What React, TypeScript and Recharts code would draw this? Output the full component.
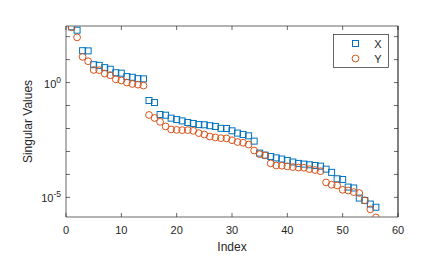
import React from 'react';
import { ScatterChart, Scatter, XAxis, YAxis, Legend, ReferenceLine } from 'recharts';

const indices = [
  1, 2, 3, 4, 5, 6, 7, 8, 9, 10, 11, 12, 13, 14, 15, 16, 17, 18, 19, 20,
  21, 22, 23, 24, 25, 26, 27, 28, 29, 30, 31, 32, 33, 34, 35, 36, 37, 38, 39, 40,
  41, 42, 43, 44, 45, 46, 47, 48, 49, 50, 51, 52, 53, 54, 55, 56,
];

const xValues = [
  269, 191, 24.5, 24.0, 6.03, 5.62, 4.47, 3.8, 2.69, 2.57,
  1.82, 1.7, 1.48, 1.45, 0.166, 0.135, 0.0407, 0.038, 0.0282, 0.0245,
  0.0214, 0.0182, 0.0166, 0.0148, 0.0145, 0.0132, 0.0123, 0.0102, 0.01, 0.00794,
  0.00631, 0.0055, 0.00479, 0.00282, 8.51e-4, 6.92e-4, 6.03e-4, 5.25e-4, 4.68e-4, 4.07e-4,
  3.47e-4, 3.02e-4, 2.82e-4, 2.63e-4, 2.45e-4, 2.29e-4, 1.7e-4, 1.23e-4, 6.46e-5, 6.03e-5,
  2.82e-5, 2.57e-5, 9.33e-6, 7.41e-6, 5.13e-6, 3.72e-6,
];

const yValues = [
  257, 93.3, 13.2, 8.51, 3.55, 3.47, 2.45, 2.09, 1.38, 1.23,
  1.0, 0.871, 0.813, 0.741, 0.0389, 0.0288, 0.0195, 0.0123, 0.00912, 0.00871,
  0.00851, 0.00851, 0.00794, 0.00631, 0.0055, 0.00447, 0.00407, 0.0038, 0.00372, 0.00309,
  0.00257, 0.0024, 0.002, 0.0011, 7.59e-4, 6.76e-4, 3.02e-4, 2.45e-4, 2.4e-4, 2.24e-4,
  2.09e-4, 2.0e-4, 1.95e-4, 1.7e-4, 1.55e-4, 1.38e-4, 4.47e-5, 3.55e-5, 3.31e-5, 2.14e-5,
  2.0e-5, 1.7e-5, 1.55e-5, 7.41e-6, 3.02e-6, 1.35e-6,
];

const seriesNames = ['X', 'Y'];
const xTicks = [0, 10, 20, 30, 40, 50, 60];
const yTicks = [1e2, 1e1, 1e0, 1e-1, 1e-2, 1e-3, 1e-4, 1e-5];
const labeledExponents = [0, -5];
const yDomain = [1.4e-6, 291];
const xDomain = [0, 60];

const FONT = '"Liberation Sans", Arial, Helvetica, sans-serif';
const TEXT = '#262626';
const AXIS = '#262626';
const BLUE = '#0072BD';
const ORANGE = '#D95319';

const xData = indices.map((i, k) => ({ i, v: xValues[k] }));
const yData = indices.map((i, k) => ({ i, v: yValues[k] }));

const SquareShape = (props: any) => {
  const { cx, cy } = props;
  if (cx == null || cy == null) return <g />;
  return <rect x={cx - 3} y={cy - 3} width={6} height={6} fill="none" stroke={BLUE} strokeWidth={1} />;
};

const CircleShape = (props: any) => {
  const { cx, cy } = props;
  if (cx == null || cy == null) return <g />;
  return <circle cx={cx} cy={cy} r={3.4} fill="none" stroke={ORANGE} strokeWidth={1} />;
};

const EmptyShape = () => <g />;
const EmptyTick = () => <g />;

const YTick = (props: any) => {
  const { x, y, payload } = props;
  const exp = Math.round(Math.log10(payload.value));
  if (!labeledExponents.includes(exp)) return <g />;
  return (
    <text x={x} y={y} textAnchor="end" fontSize={11} fill={TEXT} fontFamily={FONT}>
      <tspan dy={5}>10</tspan>
      <tspan dy={-5} fontSize={8.5}>{String(exp)}</tspan>
    </text>
  );
};

const XTick = (props: any) => {
  const { x, y, payload } = props;
  return (
    <text x={x} y={y} dy={15} textAnchor="middle" fontSize={11} fill={TEXT} fontFamily={FONT}>
      {String(payload.value)}
    </text>
  );
};

const YLabel = (props: any) => {
  const vb = props.viewBox || { x: 0, y: 0, height: 0 };
  const cx = vb.x + 24;
  const cy = vb.y + vb.height / 2;
  return (
    <text x={cx} y={cy} transform={`rotate(-90, ${cx}, ${cy})`} textAnchor="middle" fontSize={12} fill={TEXT} fontFamily={FONT}>
      Singular Values
    </text>
  );
};

const XLabel = (props: any) => {
  const vb = props.viewBox || { x: 0, y: 0, width: 0 };
  return (
    <text x={vb.x + vb.width / 2} y={vb.y + 34} textAnchor="middle" fontSize={12} fill={TEXT} fontFamily={FONT}>
      Index
    </text>
  );
};

const LegendBox = () => (
  <svg width={56} height={34} style={{ display: 'block' }}>
    <rect x={0.5} y={0.5} width={55} height={33} fill="#fff" stroke={AXIS} strokeWidth={0.7} />
    <rect x={19.5} y={6.5} width={6} height={6} fill="none" stroke={BLUE} strokeWidth={1} />
    <text x={45} y={13.5} textAnchor="middle" fontSize={11} fill={TEXT} fontFamily={FONT}>{seriesNames[0]}</text>
    <circle cx={22.5} cy={24.5} r={3.4} fill="none" stroke={ORANGE} strokeWidth={1} />
    <text x={45} y={28.5} textAnchor="middle" fontSize={11} fill={TEXT} fontFamily={FONT}>{seriesNames[1]}</text>
  </svg>
);

export default function App() {
  return (
    <div style={{ width: 435, height: 258 }}>
      <ScatterChart width={435} height={258} margin={{ top: 17, right: 44, bottom: 0, left: 0 }}>
        <XAxis
          type="number"
          dataKey="i"
          domain={xDomain}
          ticks={xTicks}
          interval={0}
          height={49}
          stroke={AXIS}
          strokeWidth={0.7}
          tickSize={-4}
          tickMargin={6}
          tick={<XTick />}
          label={<XLabel />}
        />
        <XAxis
          xAxisId="top"
          orientation="top"
          type="number"
          dataKey="i"
          domain={xDomain}
          ticks={xTicks}
          interval={0}
          height={1}
          stroke={AXIS}
          strokeWidth={0.7}
          tickSize={-4}
          tick={<EmptyTick />}
        />
        <YAxis
          type="number"
          dataKey="v"
          scale="log"
          domain={yDomain}
          ticks={yTicks}
          interval={0}
          allowDataOverflow
          width={58}
          stroke={AXIS}
          strokeWidth={0.7}
          tickSize={-4}
          tickMargin={9}
          tick={<YTick />}
          label={<YLabel />}
        />
        <YAxis
          yAxisId="right"
          orientation="right"
          type="number"
          dataKey="v"
          scale="log"
          domain={yDomain}
          ticks={yTicks}
          interval={0}
          allowDataOverflow
          width={1}
          stroke={AXIS}
          strokeWidth={0.7}
          tickSize={-4}
          tick={<EmptyTick />}
        />
        <ReferenceLine x={xDomain[1]} stroke={AXIS} strokeWidth={0.7} />
        <Legend
          layout="vertical"
          align="center"
          verticalAlign="middle"
          wrapperStyle={{ position: 'absolute', left: 325, top: 26, width: 56, height: 34 }}
          content={<LegendBox />}
        />
        <Scatter name={seriesNames[0]} data={xData} shape={<SquareShape />} isAnimationActive={false} />
        <Scatter name={seriesNames[1]} data={yData} shape={<CircleShape />} isAnimationActive={false} />
        <Scatter
          name="frame"
          xAxisId="top"
          yAxisId="right"
          data={xData}
          shape={<EmptyShape />}
          legendType="none"
          isAnimationActive={false}
        />
      </ScatterChart>
    </div>
  );
}
